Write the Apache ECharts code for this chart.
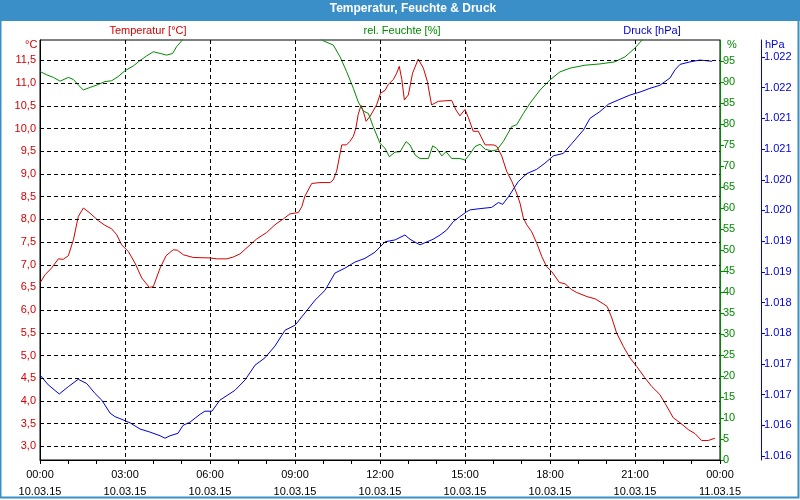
<!DOCTYPE html>
<html>
<head>
<meta charset="utf-8">
<script src="https://cdn.jsdelivr.net/npm/echarts@6/dist/echarts.min.js"></script>
<style>html,body{margin:0;padding:0;background:#fff}#c{width:800px;height:500px}</style>
</head>
<body>
<div id="c"></div>
<script>
// ---- data (hours since 10.03.15 00:00) ----
const tempTime = [0.00,0.18,0.41,0.65,0.82,1.00,1.18,1.35,1.53,1.76,2.06,2.29,2.53,2.71,2.88,3.12,3.35,3.59,3.86,4.00,4.24,4.45,4.70,4.85,5.06,5.41,6.00,6.24,6.59,6.82,7.06,7.65,8.00,8.29,8.59,8.82,9.12,9.24,9.35,9.59,9.88,10.24,10.35,10.47,10.65,10.82,10.94,11.06,11.15,11.23,11.33,11.41,11.51,11.65,11.88,12.02,12.18,12.29,12.47,12.59,12.68,12.77,12.86,13.00,13.15,13.35,13.53,13.67,13.82,14.06,14.29,14.53,14.68,14.82,15.00,15.12,15.29,15.47,15.71,16.00,16.12,16.30,16.47,16.65,16.82,16.94,17.06,17.18,17.35,17.53,17.71,17.88,18.06,18.33,18.53,18.77,18.94,19.30,19.59,19.88,20.02,20.18,20.35,20.59,20.82,21.06,21.35,21.59,21.88,22.06,22.35,22.59,22.88,23.12,23.35,23.59,23.82];
const tempValues = [6.60,6.78,6.93,7.13,7.12,7.20,7.55,8.06,8.25,8.14,7.97,7.87,7.79,7.66,7.44,7.29,7.04,6.71,6.50,6.52,6.93,7.20,7.33,7.32,7.22,7.16,7.15,7.13,7.13,7.17,7.24,7.57,7.71,7.88,8.01,8.12,8.15,8.28,8.51,8.79,8.81,8.81,8.87,9.06,9.64,9.64,9.72,9.83,10.01,10.31,10.51,10.38,10.16,10.27,10.52,10.78,10.84,10.97,11.08,11.22,11.37,11.08,10.63,10.74,11.22,11.53,11.33,11.04,10.52,10.60,10.61,10.62,10.41,10.28,10.42,10.24,9.94,9.94,9.64,9.64,9.61,9.39,9.06,8.84,8.58,8.36,8.03,7.88,7.73,7.48,7.18,6.96,6.85,6.61,6.58,6.45,6.39,6.30,6.25,6.14,6.08,5.83,5.50,5.20,4.95,4.76,4.51,4.32,4.14,3.95,3.63,3.52,3.37,3.28,3.13,3.13,3.18];

const humTime = [0.00,0.24,0.47,0.71,1.00,1.18,1.35,1.53,1.76,2.06,2.29,2.53,2.76,3.00,3.29,3.53,3.76,4.00,4.24,4.47,4.68,4.82,5.00,5.12,7.50,9.80,10.00,10.35,10.59,10.82,11.06,11.23,11.41,11.59,11.76,12.00,12.18,12.33,12.53,12.71,12.92,13.06,13.24,13.41,13.71,13.86,14.00,14.18,14.33,14.53,14.82,15.00,15.18,15.35,15.53,15.71,15.94,16.12,16.35,16.65,16.82,17.06,17.29,17.65,18.00,18.35,18.71,19.24,19.76,20.29,20.65,21.00,21.25,21.40,23.82];
const humValues = [92.5,91.7,91.1,90.2,91.1,90.6,89.3,88.1,88.7,89.4,90.1,90.3,91.3,92.7,93.8,95.1,96.2,97.2,96.8,96.4,96.8,98.4,99.8,101,101,101,99.8,98.8,96.0,92.5,88.5,85.3,83.1,82.5,79.4,75.4,74.2,72.2,73.3,73.4,75.8,75.0,72.6,71.8,71.8,74.8,74.2,72.4,73.4,71.8,71.8,71.4,72.9,74.6,75.2,74.0,73.6,73.8,75.8,79.4,79.8,82.5,84.9,88.1,90.5,92.4,93.3,94.0,94.3,94.8,96.0,98.1,100.0,101,101];

const presTime = [0.00,0.29,0.68,1.00,1.35,1.65,1.94,2.18,2.47,2.65,2.82,3.18,3.53,3.88,4.24,4.41,4.59,4.87,5.05,5.29,5.65,5.82,6.07,6.35,6.88,7.24,7.59,7.94,8.29,8.65,9.00,9.35,9.71,10.06,10.41,10.76,11.12,11.47,11.82,12.18,12.53,12.88,13.06,13.41,13.87,14.12,14.35,14.59,14.82,15.06,15.18,15.53,15.94,16.18,16.33,16.53,16.88,17.18,17.53,17.82,18.12,18.47,18.77,19.18,19.41,19.76,20.06,20.41,20.82,21.18,21.53,21.88,22.24,22.41,22.59,22.94,23.29,23.72];
const presValues = [1016.82,1016.66,1016.51,1016.63,1016.75,1016.68,1016.52,1016.41,1016.20,1016.14,1016.11,1016.04,1015.94,1015.89,1015.83,1015.79,1015.83,1015.87,1016.00,1016.05,1016.18,1016.23,1016.23,1016.41,1016.57,1016.74,1016.98,1017.10,1017.29,1017.55,1017.63,1017.83,1018.04,1018.20,1018.48,1018.56,1018.66,1018.72,1018.82,1018.99,1019.02,1019.10,1019.03,1018.94,1019.03,1019.10,1019.18,1019.32,1019.40,1019.48,1019.51,1019.53,1019.55,1019.63,1019.60,1019.72,1019.97,1020.10,1020.17,1020.27,1020.39,1020.43,1020.59,1020.81,1021.00,1021.11,1021.23,1021.30,1021.38,1021.43,1021.49,1021.54,1021.66,1021.79,1021.88,1021.92,1021.95,1021.93];

// ---- tick labels ----
const tempTicks = [3.0,3.5,4.0,4.5,5.0,5.5,6.0,6.5,7.0,7.5,8.0,8.5,9.0,9.5,10.0,10.5,11.0,11.5];
const presTicks = [1015.5,1016,1016.5,1017,1017.5,1018,1018.5,1019,1019.5,1020,1020.5,1021,1021.5,1022];
const xDates = {0:'10.03.15',3:'10.03.15',6:'10.03.15',9:'10.03.15',12:'10.03.15',15:'10.03.15',18:'10.03.15',21:'10.03.15',24:'11.03.15'};

const RED = '#d40000', GREEN = '#008a00', BLUE = '#0000dd', FRAME = '#3b8fc8';
const FONT = 'Liberation Sans';

const chart = echarts.init(document.getElementById('c'), null, {renderer: 'canvas'});
const pair = (t, v) => t.map((x, i) => [x, v[i]]);
const txt = (color, size, weight) => ({color: color, fontSize: size, fontWeight: weight || 'normal', fontFamily: FONT});

chart.setOption({
  animation: false,
  backgroundColor: '#fff',
  textStyle: {fontFamily: FONT},
  graphic: [
    {type: 'rect', shape: {x: 0, y: 0, width: 800, height: 21}, style: {fill: FRAME}, z: 0},
    {type: 'rect', shape: {x: 0.5, y: 0.5, width: 798, height: 497}, style: {fill: null, stroke: FRAME, lineWidth: 2}, z: 0}
  ],
  title: [
    {text: 'Temperatur, Feuchte & Druck', left: 413, top: 3, padding: 0, textAlign: 'center', textStyle: txt('#fff', 12, 'bold')},
    {text: 'Temperatur [°C]', left: 148, top: 25, padding: 0, textAlign: 'center', textStyle: txt(RED, 11)},
    {text: 'rel. Feuchte [%]', left: 402, top: 25, padding: 0, textAlign: 'center', textStyle: txt(GREEN, 11)},
    {text: 'Druck [hPa]', left: 652, top: 25, padding: 0, textAlign: 'center', textStyle: txt(BLUE, 11)},
    {text: '°C', left: 25, top: 39, padding: 0, textStyle: txt(RED, 11)},
    {text: '%', left: 727, top: 39, padding: 0, textStyle: txt(GREEN, 11)},
    {text: 'hPa', left: 765, top: 39, padding: 0, textStyle: txt(BLUE, 11)}
  ],
  grid: {left: 40, right: 80, top: 40, bottom: 40, show: true, borderColor: '#000', borderWidth: 1, backgroundColor: 'transparent'},
  xAxis: {
    type: 'value', min: 0, max: 24, interval: 3,
    axisLine: {lineStyle: {color: '#000', width: 1}},
    axisTick: {show: true, length: 4, lineStyle: {color: '#000'}},
    minorTick: {show: true, splitNumber: 3, length: 4, lineStyle: {color: '#000'}},
    splitLine: {show: true, lineStyle: {color: '#000', type: [4, 3], width: 1}},
    axisLabel: {
      color: '#000', fontSize: 11, lineHeight: 17, margin: 6, fontFamily: FONT,
      formatter: v => { const h = v % 24; return (h < 10 ? '0' : '') + h + ':00\n' + xDates[v]; }
    }
  },
  yAxis: [
    {
      type: 'value', position: 'left', min: 2.7, max: 11.95,
      axisLine: {show: true, lineStyle: {color: '#000'}},
      axisTick: {show: false},
      splitLine: {show: false},
      axisLabel: {customValues: tempTicks, color: RED, fontSize: 11, margin: 4, fontFamily: FONT,
        formatter: v => v.toFixed(1).replace('.', ',')}
    },
    {
      type: 'value', position: 'right', offset: 0, min: 0, max: 100, interval: 5,
      axisLine: {show: true, lineStyle: {color: GREEN}},
      axisTick: {show: true, length: 4, lineStyle: {color: GREEN}},
      splitLine: {show: false},
      axisLabel: {color: GREEN, fontSize: 11, margin: 3, showMaxLabel: false, fontFamily: FONT}
    },
    {
      type: 'value', position: 'right', offset: 41, min: 1015.435, max: 1022.277,
      axisLine: {show: true, lineStyle: {color: BLUE}},
      axisTick: {show: true, length: 4, customValues: presTicks, lineStyle: {color: BLUE}},
      splitLine: {show: false},
      axisLabel: {customValues: presTicks, color: BLUE, fontSize: 11, margin: 3, fontFamily: FONT,
        formatter: v => { const r = Math.round(v + 1e-9); return Math.floor(r / 1000) + '.' + String(r % 1000).padStart(3, '0'); }}
    }
  ],
  series: [
    {
      type: 'line', yAxisIndex: 0, data: [], z: 1, silent: true,
      markLine: {
        silent: true, symbol: ['none', 'none'], label: {show: false},
        lineStyle: {color: '#000', type: [4, 3], width: 1},
        emphasis: {disabled: true},
        data: tempTicks.map(v => ({yAxis: v}))
      }
    },
    {name: 'Temperatur', type: 'line', yAxisIndex: 0, data: pair(tempTime, tempValues), showSymbol: false,
     lineStyle: {color: RED, width: 1}, itemStyle: {color: RED}, z: 3},
    {name: 'rel. Feuchte', type: 'line', yAxisIndex: 1, data: pair(humTime, humValues), showSymbol: false, clip: true,
     lineStyle: {color: GREEN, width: 1}, itemStyle: {color: GREEN}, z: 3},
    {name: 'Druck', type: 'line', yAxisIndex: 2, data: pair(presTime, presValues), showSymbol: false,
     lineStyle: {color: BLUE, width: 1}, itemStyle: {color: BLUE}, z: 3}
  ]
});
</script>
</body>
</html>
